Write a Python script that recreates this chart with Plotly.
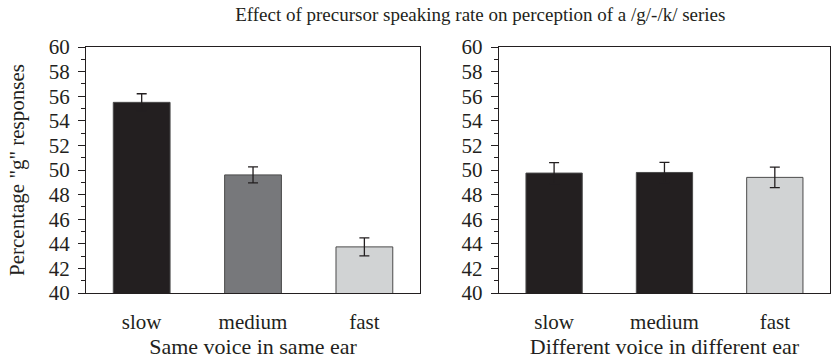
import plotly.graph_objects as go

categories = ["slow", "medium", "fast"]
same_values = [55.5, 49.6, 43.75]
same_errors = [0.7, 0.65, 0.73]
diff_values = [49.75, 49.8, 49.4]
diff_errors = [0.85, 0.82, 0.83]
same_colors = ["#231f20", "#77787b", "#d1d3d4"]
diff_colors = ["#231f20", "#231f20", "#d1d3d4"]
y_ticks = list(range(40, 61, 2))

FONT = "Liberation Serif"
INK = "#231f20"

fig = go.Figure()
fig.add_trace(go.Bar(
    x=categories, y=same_values, xaxis="x", yaxis="y",
    marker=dict(color=same_colors, line=dict(color="#4a4a4a", width=1)),
    error_y=dict(type="data", array=same_errors, color=INK, thickness=1.3, width=5),
    width=0.51, showlegend=False,
))
fig.add_trace(go.Bar(
    x=categories, y=diff_values, xaxis="x2", yaxis="y2",
    marker=dict(color=diff_colors, line=dict(color="#4a4a4a", width=1)),
    error_y=dict(type="data", array=diff_errors, color=INK, thickness=1.3, width=5),
    width=0.51, showlegend=False,
))

yax = dict(
    range=[40, 60], tickvals=y_ticks, ticks="outside", ticklen=7, tickwidth=1,
    tickcolor=INK, showline=True, linecolor=INK, linewidth=1.2,
    showgrid=False, zeroline=False, mirror=True, automargin=False,
    ticklabelstandoff=4,
    tickfont=dict(family=FONT, size=21, color=INK),
    minor=dict(dtick=1, ticks="outside", ticklen=4, tickcolor=INK, showgrid=False),
)
xax = dict(
    showline=True, linecolor=INK, linewidth=1.2, mirror=True, automargin=False,
    ticks="", showgrid=False, zeroline=False, ticklabelstandoff=10,
    tickfont=dict(family=FONT, size=21, color=INK),
)

fig.update_layout(
    width=831, height=362,
    margin=dict(l=86, r=1, t=47, b=69),
    font=dict(family=FONT, color=INK),
    paper_bgcolor="white", plot_bgcolor="white",
    title=dict(text="Effect of precursor speaking rate on perception of a /g/-/k/ series",
               x=0.578, xanchor="center", y=0.96, yanchor="middle",
               font=dict(family=FONT, size=19, color=INK)),
    xaxis=dict(xax, domain=[0, 0.449], anchor="y",
               title=dict(text="Same voice in same ear", standoff=5,
                          font=dict(family=FONT, size=22, color=INK))),
    yaxis=dict(yax, domain=[0, 1], anchor="x",
               title=dict(text='Percentage "g" responses', standoff=18,
                          font=dict(family=FONT, size=21, color=INK))),
    xaxis2=dict(xax, domain=[0.555, 1], anchor="y2",
                title=dict(text="Different voice in different ear", standoff=5,
                           font=dict(family=FONT, size=22, color=INK))),
    yaxis2=dict(yax, domain=[0, 1], anchor="x2"),
)

fig.write_html("out.html", config={"displayModeBar": False},
               post_script="document.body.style.margin='0';document.body.style.overflow='hidden';")
